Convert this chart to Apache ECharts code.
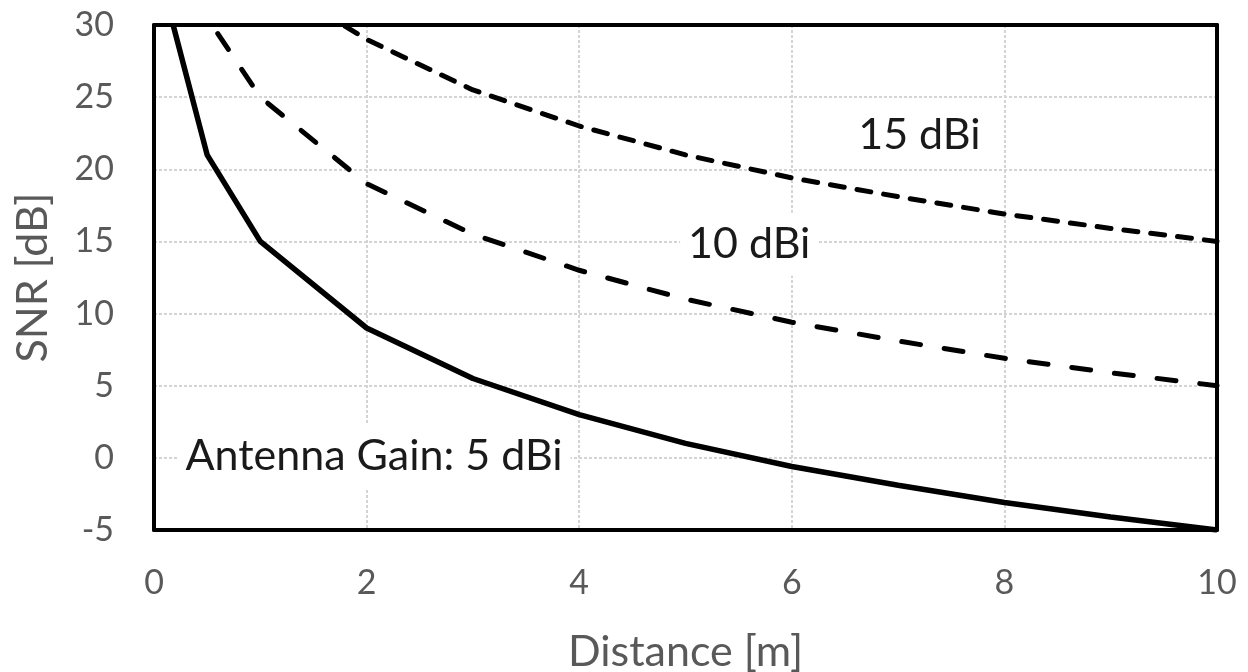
<!DOCTYPE html>
<html>
<head>
<meta charset="utf-8">
<script src="https://cdn.jsdelivr.net/npm/echarts@6/dist/echarts.min.js"></script>
<style>
  html, body { margin: 0; padding: 0; background: #fff; }
  #chart { width: 1248px; height: 672px; }
</style>
</head>
<body>
<div id="chart"></div>
<script>
// distance [m] and SNR [dB] for each antenna gain
const distGain5 = [0.18, 0.5, 1, 2, 3, 4, 5, 6, 7, 8, 9, 10];
const snrGain5 = [30, 21, 15, 9, 5.5, 3, 1, -0.6, -1.9, -3.1, -4.1, -5];

const distGain10 = [0.6, 1, 2, 3, 4, 5, 6, 7, 8, 9, 10];
const snrGain10 = [29.4, 25, 19, 15.5, 13, 11, 9.4, 8.1, 6.9, 5.9, 5];

const distGain15 = [1.8, 2, 3, 4, 5, 6, 7, 8, 9, 10];
const snrGain15 = [29.9, 29, 25.5, 23, 21, 19.4, 18.1, 16.9, 15.9, 15];

// annotation texts and where they sit (data units)
const noteTexts = ['Antenna Gain: 5 dBi', '10 dBi', '15 dBi'];
const noteX = [2.07, 5.6, 7.2];
const noteY = [0.1, 14.8, 22.4];

const font = 'Lato, "Open Sans", sans-serif';
const gridLine = { show: true, showMinLine: false, showMaxLine: false, lineStyle: { color: '#d4d4d4', width: 2, type: [3, 2] } };
const frameLine = { show: true, onZero: false, lineStyle: { color: '#000', width: 4 } };

function pairs(xs, ys) {
  return xs.map((x, i) => [x, ys[i]]);
}

const notes = noteTexts.map((t, i) => ({
  coord: [noteX[i], noteY[i]],
  label: { formatter: t }
}));

const chart = echarts.init(document.getElementById('chart'));

// axes on top/right only draw the frame
const frameAxis = {
  min: 0, max: 10, interval: 2, type: 'value',
  axisLine: frameLine, axisTick: { show: false }, axisLabel: { show: false }, splitLine: { show: false }
};

const option = {
  animation: false,
  grid: { left: 154, right: 31, top: 25, bottom: 142, outerBoundsMode: 'none' },
  xAxis: [
    {
      type: 'value',
      min: 0,
      max: 10,
      interval: 2,
      name: 'Distance [m]',
      nameLocation: 'middle',
      nameGap: 101,
      nameTextStyle: { fontFamily: font, fontSize: 43, color: '#595959' },
      axisLine: frameLine,
      axisTick: { show: false },
      axisLabel: { margin: 36, fontFamily: font, fontSize: 34, color: '#595959' },
      splitLine: gridLine
    },
    Object.assign({}, frameAxis, { position: 'top' })
  ],
  yAxis: [
    {
      type: 'value',
      min: -5,
      max: 30,
      interval: 5,
      name: 'SNR [dB]',
      nameLocation: 'middle',
      nameGap: 99,
      nameTextStyle: { fontFamily: font, fontSize: 43, color: '#595959' },
      axisLine: frameLine,
      axisTick: { show: false },
      axisLabel: { margin: 40, fontFamily: font, fontSize: 34, color: '#595959' },
      splitLine: gridLine
    },
    Object.assign({}, frameAxis, { min: -5, max: 30, interval: 5, position: 'right' })
  ],
  series: [
    {
      name: '5 dBi',
      type: 'line',
      data: pairs(distGain5, snrGain5),
      symbol: 'none',
      lineStyle: { color: '#000', width: 5.5 }
    },
    {
      name: '10 dBi',
      type: 'line',
      data: pairs(distGain10, snrGain10),
      symbol: 'none',
      lineStyle: { color: '#000', width: 5, type: [19, 24], cap: 'round' }
    },
    {
      name: '15 dBi',
      type: 'line',
      data: pairs(distGain15, snrGain15),
      symbol: 'none',
      lineStyle: { color: '#000', width: 5, type: [14, 13], cap: 'round' }
    },
    {
      name: 'notes',
      type: 'scatter',
      data: [],
      markPoint: {
        symbol: 'rect',
        symbolSize: 0,
        silent: true,
        label: {
          show: true,
          position: 'inside',
          fontFamily: font,
          fontSize: 43,
          color: '#1a1a1a',
          backgroundColor: '#fff',
          padding: [10, 8]
        },
        data: notes
      }
    }
  ]
};

chart.setOption(option);
</script>
</body>
</html>
